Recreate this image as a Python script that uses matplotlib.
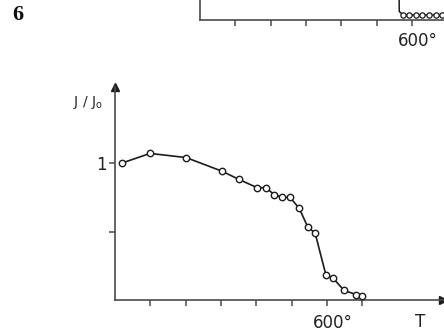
import matplotlib.pyplot as plt
from matplotlib.transforms import ScaledTranslation

# main panel: normalised J/J0 against temperature (deg C)
temps = [20, 99, 201, 303, 351, 402, 427, 450, 473, 495, 521, 546, 566, 597, 617, 648, 682, 699]
ratio = [1.0, 1.07, 1.04, 0.94, 0.88, 0.82, 0.82, 0.77, 0.75, 0.75, 0.67, 0.53, 0.49, 0.18, 0.16, 0.07, 0.04, 0.03]

# cut-off panel above (only its lower edge is visible)
top_temps = [562, 564, 575, 592, 611, 628, 648, 668, 685, 702]
top_ratio = [0.9, 0.08, 0.045, 0.045, 0.045, 0.045, 0.045, 0.045, 0.045, 0.045]

x_ticks = [100, 200, 300, 400, 500, 600, 700]
x_labels = ["", "", "", "", "", "600°", ""]
y_ticks = [0.5, 1.0]
y_labels = ["", "1"]

ink = "#1c1c1c"
axis_col = "#4a4a4a"

fig = plt.figure(figsize=(4.44, 3.35), dpi=100)
fig.patch.set_facecolor("white")

# ---- main panel
ax = fig.add_axes([115 / 444, 35 / 335, 328 / 444, 213 / 335])
ax.set_xlim(0, 928)
ax.set_ylim(0, 1.555)
for s in ["top", "right"]:
    ax.spines[s].set_visible(False)
for s in ["left", "bottom"]:
    ax.spines[s].set_color(axis_col)
    ax.spines[s].set_linewidth(1.2)
ax.plot(1, 0, ">", color=ink, markersize=6, transform=ax.transAxes, clip_on=False)
ax.plot(0, 1, "^", color=ink, markersize=6, transform=ax.transAxes, clip_on=False)

ax.plot(temps, ratio, "-o", color=ink, lw=1.2, markersize=4.6,
        markerfacecolor="white", markeredgecolor=ink, markeredgewidth=1.0,
        clip_on=False, zorder=3)

ax.set_xticks(x_ticks)
ax.set_xticklabels(x_labels, fontsize=12, color="#222222")
ax.set_yticks(y_ticks)
ax.set_yticklabels(y_labels, fontsize=12, color="#222222")
ax.tick_params(axis="both", direction="out", length=4, width=1.1, color=axis_col)
ax.tick_params(axis="x", pad=6)
ax.tick_params(axis="y", pad=2)
shift = ScaledTranslation(0.06, 0, fig.dpi_scale_trans)
for lab in ax.get_xticklabels():
    lab.set_transform(lab.get_transform() + shift)

ax.text(-0.082, 0.925, "J / J$_{\\mathregular{o}}$", transform=ax.transAxes,
        fontsize=10, color="#222222", ha="center", va="center")
ax.text(863, -0.105, "T", transform=ax.get_xaxis_transform(),
        fontsize=12, color="#222222", ha="center", va="center")

# ---- top panel (cropped)
ax2 = fig.add_axes([200 / 444, (335 - 19.5) / 335, 247.3 / 444, 100 / 335])
ax2.set_xlim(0, 700)
ax2.set_ylim(0, 1)
for s in ["top", "right"]:
    ax2.spines[s].set_visible(False)
for s in ["left", "bottom"]:
    ax2.spines[s].set_color(axis_col)
    ax2.spines[s].set_linewidth(1.2)
ax2.plot(top_temps, top_ratio, "-o", color=ink, lw=1.1, markersize=3.8,
         markerfacecolor="white", markeredgecolor=ink, markeredgewidth=0.9,
         markevery=slice(2, None), clip_on=False)
ax2.set_xticks(x_ticks[:-1])
ax2.set_xticklabels(x_labels[:-1], fontsize=12, color="#222222")
ax2.set_yticks([])
ax2.tick_params(axis="x", direction="out", length=4, width=1.1, color=axis_col, pad=5)
for lab in ax2.get_xticklabels():
    lab.set_transform(lab.get_transform() + shift)

fig.text(18 / 444, 1 - 15 / 335, "6", fontsize=16, fontweight="bold",
         family="Liberation Serif", ha="center", va="center", color="#111111")

fig.savefig("out.png", dpi=100)
